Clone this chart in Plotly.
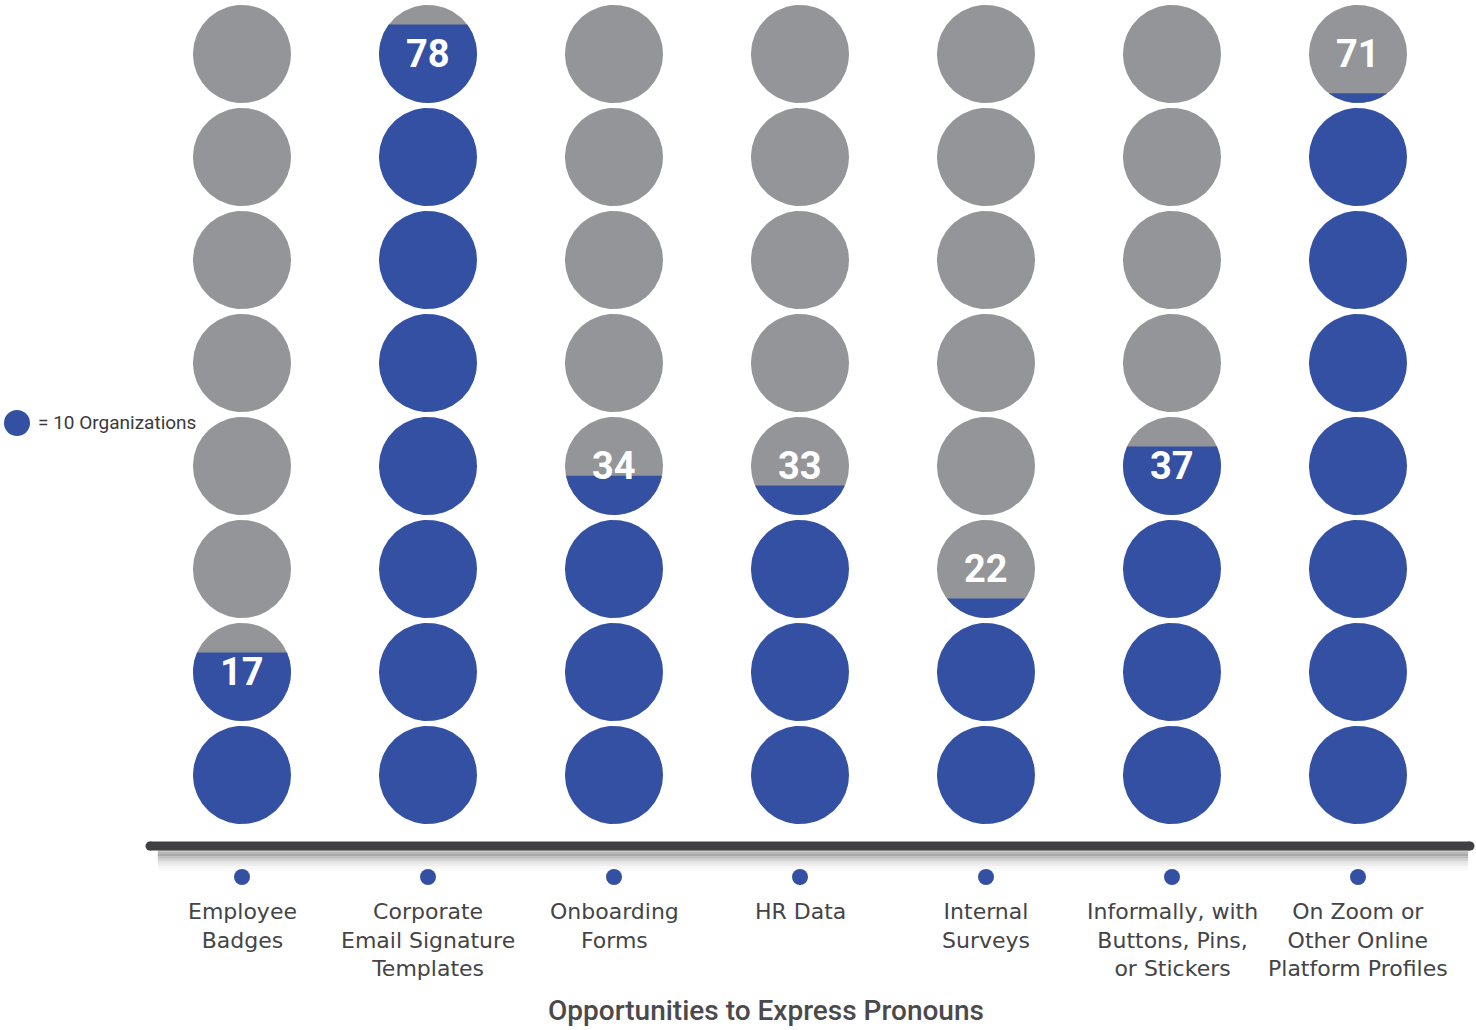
import numpy as np
import plotly.graph_objects as go

# Organizations offering each way to express pronouns (one circle = 10 orgs)
categories = [
    "Employee<br>Badges",
    "Corporate<br>Email Signature<br>Templates",
    "Onboarding<br>Forms",
    "HR Data",
    "Internal<br>Surveys",
    "Informally, with<br>Buttons, Pins,<br>or Stickers",
    "On Zoom or<br>Other Online<br>Platform Profiles",
]
values = [17, 78, 34, 33, 22, 37, 71]
per_circle = 10
circles_per_column = 8

BLUE = "#3450A2"
GRAY = "#939598"
DARK = "#404042"
W, H = 1476, 1030

# pixel geometry of the grid
col_px0, col_step = 242, 186
row_px0, row_step = 775, 103
radius_px = 49

rx = radius_px / col_step
ry = radius_px / row_step


def circle_xy(cx, cy, n=120):
    t = np.linspace(0, 2 * np.pi, n)
    return cx + rx * np.cos(t), cy + ry * np.sin(t)


def lower_segment_xy(cx, cy, frac, n=120):
    # part of the circle below a horizontal chord at height frac of the diameter
    s = np.clip(2 * frac - 1, -1, 1)
    a = np.arcsin(s)
    t = np.linspace(np.pi - a, 2 * np.pi + a, n)
    x = cx + rx * np.cos(t)
    y = cy + ry * np.sin(t)
    return np.append(x, x[0]), np.append(y, y[0])


fig = go.Figure()


def add_poly(x, y, color):
    fig.add_trace(go.Scatter(
        x=x, y=y, mode="lines", fill="toself", fillcolor=color,
        line=dict(width=0, color=color), hoverinfo="skip", showlegend=False,
    ))


for i, v in enumerate(values):
    full = v // per_circle
    frac = (v % per_circle) / per_circle
    for r in range(circles_per_column):
        cx, cy = i, r
        if r < full:
            add_poly(*circle_xy(cx, cy), BLUE)
        else:
            add_poly(*circle_xy(cx, cy), GRAY)
            if r == full and frac > 0:
                add_poly(*lower_segment_xy(cx, cy, frac), BLUE)
    label_row = full if v % per_circle else full - 1
    fig.add_annotation(
        x=i, y=label_row, text=f"<b>{v}</b>", showarrow=False,
        font=dict(family="Roboto", size=38, color="white"),
        xanchor="center", yanchor="middle",
    )

# small markers under the baseline
dot_y = (row_px0 - 877) / row_step
fig.add_trace(go.Scatter(
    x=list(range(len(values))), y=[dot_y] * len(values), mode="markers",
    marker=dict(size=16, color=BLUE), hoverinfo="skip", showlegend=False,
))

# category names
label_y = (row_px0 - 897) / row_step
for i, name in enumerate(categories):
    fig.add_annotation(
        x=i, y=label_y, text=name, showarrow=False, xanchor="center", yanchor="top",
        font=dict(family="DejaVu Sans", size=22, color="#444446"),
        align="center",
    )

# baseline with a soft shadow underneath
x0p, x1p = 146 / W, 1474 / W
for k, op in enumerate([0.22, 0.16, 0.11, 0.07, 0.045, 0.025, 0.015]):
    y0 = 1 - (849 + k * 2.5) / H
    y1 = 1 - (856 + k * 2.5) / H
    fig.add_shape(type="rect", xref="paper", yref="paper", x0=x0p + 0.008, x1=x1p - 0.004,
                  y0=y1, y1=y0, fillcolor=f"rgba(50,50,50,{op})", line=dict(width=0), layer="below")
fig.add_shape(type="line", xref="paper", yref="paper", x0=150 / W, x1=1470 / W,
              y0=1 - 846 / H, y1=1 - 846 / H, line=dict(color=DARK, width=9))
for xp in (150, 1470):
    fig.add_shape(type="circle", xref="paper", yref="paper",
                  x0=(xp - 4.5) / W, x1=(xp + 4.5) / W,
                  y0=1 - (846 + 4.5) / H, y1=1 - (846 - 4.5) / H,
                  fillcolor=DARK, line=dict(width=0))

# key
fig.add_shape(type="circle", xref="paper", yref="paper",
              x0=4 / W, x1=30 / W, y0=1 - 436 / H, y1=1 - 410 / H,
              fillcolor=BLUE, line=dict(width=0))
fig.add_annotation(
    xref="paper", yref="paper", x=36 / W, y=1 - 423 / H, text="= 10 Organizations",
    showarrow=False, xanchor="left", yanchor="middle",
    font=dict(family="Roboto", size=19, color="#3a3a3c"),
)

# axis title
fig.add_annotation(
    xref="paper", yref="paper", x=766 / W, y=1 - 1010 / H, text="Opportunities to Express Pronouns",
    showarrow=False, xanchor="center", yanchor="middle",
    font=dict(family="Roboto", size=28, color="#4a4a4c", weight=500),
)

fig.update_xaxes(visible=False, range=[-col_px0 / col_step, (W - col_px0) / col_step], fixedrange=True)
fig.update_yaxes(visible=False, range=[(row_px0 - H) / row_step, row_px0 / row_step], fixedrange=True)
fig.update_layout(
    width=W, height=H, margin=dict(l=0, r=0, t=0, b=0),
    paper_bgcolor="white", plot_bgcolor="white", showlegend=False,
)

fig.write_html("out.html")
